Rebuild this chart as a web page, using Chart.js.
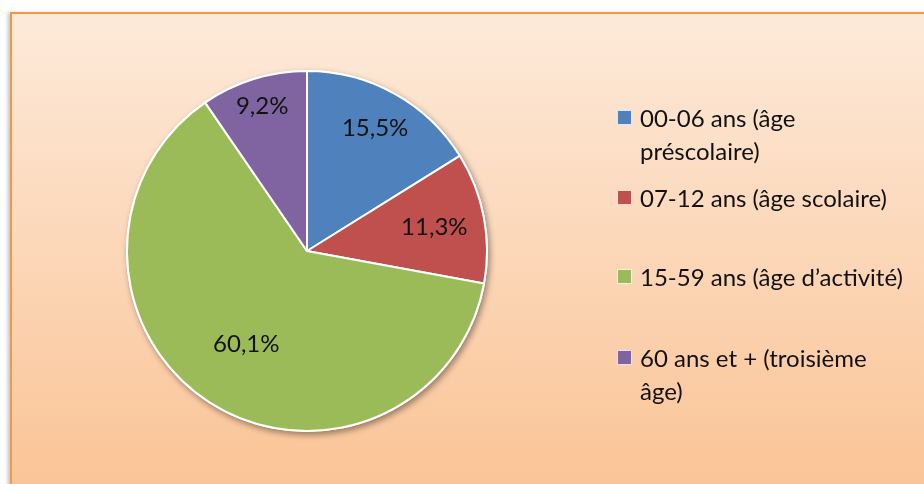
<!DOCTYPE html>
<html>
<head>
<meta charset="utf-8">
<script src="https://cdn.jsdelivr.net/npm/chart.js@4"></script>
<style>
  html, body { margin: 0; padding: 0; background: #fff; width: 924px; height: 484px; overflow: hidden; }
  #frame {
    position: absolute; left: 10px; top: 12px; width: 940px; height: 500px;
    border: 2px solid #F79646; box-sizing: border-box;
    background: linear-gradient(#FDEADA, #FAC293);
    box-shadow: -2px 1px 4px rgba(0,0,0,0.25);
  }
  #wrap { position: absolute; left: 0; top: 0; width: 924px; height: 484px; }
  #legend { position: absolute; left: 0; top: 0; font-family: Lato, "Open Sans", sans-serif; font-size: 24px; color: #111; }
  .item { position: absolute; left: 617px; display: flex; align-items: flex-start; line-height: 33px; }
  .box { width: 13px; height: 13px; margin-top: 9px; margin-right: 8px; flex: none; border: 1px solid rgba(255,255,255,0.8); }
  .txt { width: 268px; }
</style>
</head>
<body>
<div id="frame"></div>
<div id="wrap"><canvas id="c" width="924" height="484"></canvas></div>
<div id="legend"></div>
<script>
const labels = [
  '00-06 ans (âge préscolaire)',
  '07-12 ans (âge scolaire)',
  '15-59 ans (âge d\u2019activité)',
  '60 ans et + (troisième âge)'
];
const values = [15.5, 11.3, 60.1, 9.2];
const valueLabels = ['15,5%', '11,3%', '60,1%', '9,2%'];
const colors = ['#4F81BD', '#C0504D', '#9BBB59', '#8064A2'];

// legend (built from the same arrays)
const legendTops = [101, 181, 260, 341];
const legend = document.getElementById('legend');
labels.forEach((lab, i) => {
  const it = document.createElement('div');
  it.className = 'item';
  it.style.top = legendTops[i] + 'px';
  it.innerHTML = '<span class="box" style="background:' + colors[i] + '"></span><span class="txt"></span>';
  it.querySelector('.txt').textContent = lab;
  legend.appendChild(it);
});

const pieShadow = {
  id: 'pieShadow',
  beforeDatasetsDraw(chart) {
    const arc = chart.getDatasetMeta(0).data[0];
    if (!arc) return;
    const ctx = chart.ctx;
    ctx.save();
    ctx.shadowColor = 'rgba(0,0,0,0.4)';
    ctx.shadowBlur = 6;
    ctx.shadowOffsetX = 2;
    ctx.shadowOffsetY = 3;
    ctx.fillStyle = '#ffffff';
    ctx.beginPath();
    ctx.arc(arc.x, arc.y, arc.outerRadius + 1, 0, Math.PI * 2);
    ctx.fill();
    ctx.restore();
  }
};

// how far out along the radius each label sits (Excel "best fit")
const labelRadius = [0.78, 0.72, 0.62, 0.84];

const sliceLabels = {
  id: 'sliceLabels',
  afterDatasetsDraw(chart) {
    const ctx = chart.ctx;
    ctx.save();
    ctx.font = '24px Lato, "Open Sans", sans-serif';
    ctx.fillStyle = '#111';
    ctx.textAlign = 'center';
    ctx.textBaseline = 'middle';
    chart.getDatasetMeta(0).data.forEach((arc, i) => {
      const mid = (arc.startAngle + arc.endAngle) / 2;
      const r = arc.outerRadius * labelRadius[i];
      ctx.fillText(valueLabels[i], arc.x + Math.cos(mid) * r, arc.y + Math.sin(mid) * r);
    });
    ctx.restore();
  }
};

new Chart(document.getElementById('c'), {
  type: 'pie',
  data: {
    labels: labels,
    datasets: [{
      data: values,
      backgroundColor: colors,
      borderColor: '#ffffff',
      borderWidth: 2
    }]
  },
  options: {
    responsive: false,
    animation: false,
    layout: { padding: { left: 126, top: 70, right: 436, bottom: 52 } },
    plugins: {
      legend: { display: false },
      tooltip: { enabled: false }
    }
  },
  plugins: [pieShadow, sliceLabels]
});
</script>
</body>
</html>
